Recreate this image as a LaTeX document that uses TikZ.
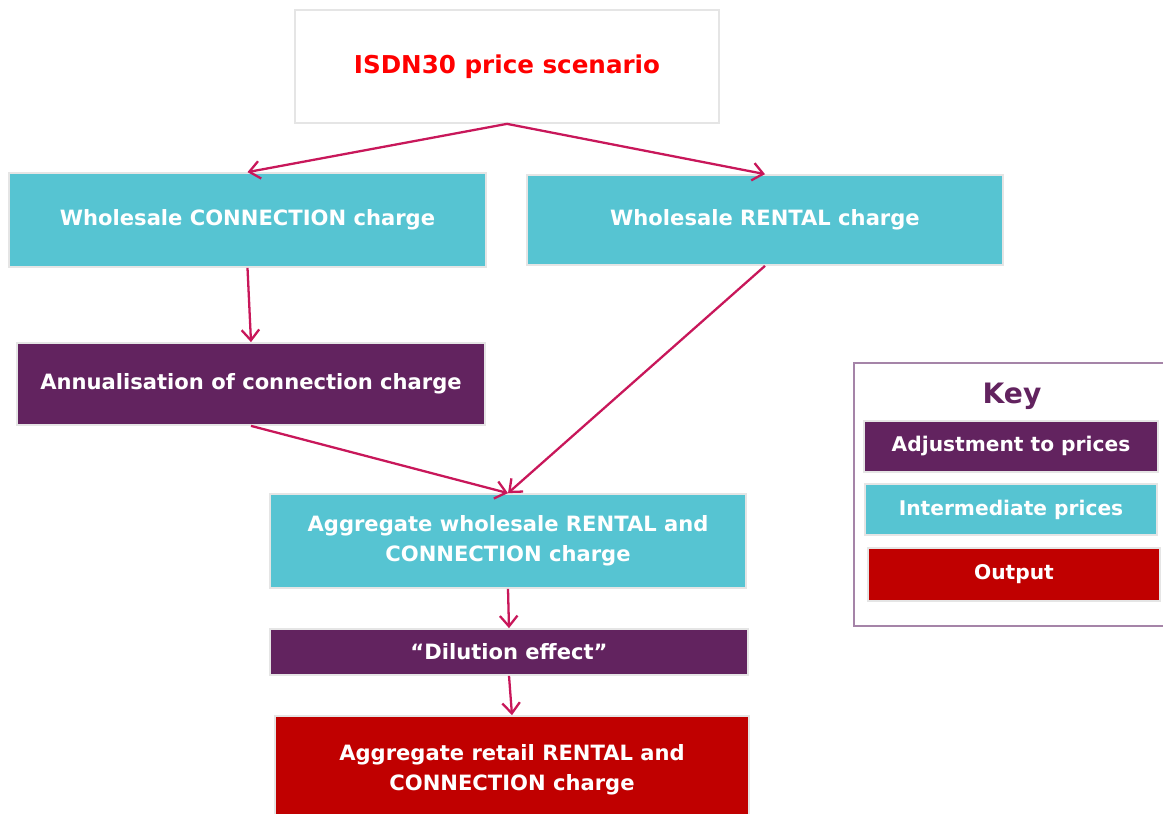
\documentclass[tikz,border=0pt]{standalone}
\usepackage{fontspec}
\setmainfont{DejaVu Sans}
\usepackage{xcolor}
\usetikzlibrary{arrows.meta}

\definecolor{teal}{HTML}{56C4D2}
\definecolor{plum}{HTML}{62235F}
\definecolor{output}{HTML}{C00000}
\definecolor{arrowred}{HTML}{C8175A}
\definecolor{keyline}{HTML}{A584A8}

\begin{document}
\begin{tikzpicture}[x=0.02cm,y=-0.02cm,
	box/.style={draw=gray!20,line width=1pt,inner sep=0pt,align=center,
		font=\bfseries\fontsize{12}{17}\selectfont,text=white},
	inter/.style={box,fill=teal},
	adjust/.style={box,fill=plum},
	outbox/.style={box,fill=output},
	keybox/.style={font=\bfseries\fontsize{11.5}{15}\selectfont},
	link/.style={draw=arrowred,line width=1.3pt,-{Straight Barb[length=6pt,width=10pt]}}]

	\useasboundingbox (0,0) rectangle (1163,814);

	% flow
	\node[box,fill=white,text=red,font=\bfseries\fontsize{14}{18}\selectfont,
		minimum width=8.48cm,minimum height=2.26cm] (isdn) at (507,66.5) {ISDN30 price scenario};

	\node[inter,minimum width=9.54cm,minimum height=1.88cm] (wconn) at (247.5,220) {Wholesale CONNECTION charge};
	\node[inter,minimum width=9.52cm,minimum height=1.8cm] (wrent) at (765,220) {Wholesale RENTAL charge};

	\node[adjust,minimum width=9.36cm,minimum height=1.64cm] (annual) at (251,384) {Annualisation of connection charge};

	\node[inter,minimum width=9.52cm,minimum height=1.88cm] (aggwhole) at (508,541) {Aggregate wholesale RENTAL and\\CONNECTION charge};
	\node[adjust,minimum width=9.56cm,minimum height=0.92cm] (dilution) at (509,652) {“Dilution effect”};
	\node[outbox,minimum width=9.48cm,minimum height=2.16cm] (aggretail) at (512,770) {Aggregate retail RENTAL and\\CONNECTION charge};

	\draw[link] (isdn.south) -- (wconn.north);
	\draw[link] (isdn.south) -- (wrent.north);
	\draw[link] (wconn.south) -- (annual.north);
	\draw[link] (annual.south) -- (aggwhole.north);
	\draw[link] (wrent.south) -- (aggwhole.north);
	\draw[link] (aggwhole.south) -- (dilution.north);
	\draw[link] (dilution.south) -- (aggretail.north);

	% key
	\draw[keyline,line width=1.2pt] (854,363) rectangle (1180,626);
	\node[text=plum,font=\bfseries\fontsize{16}{20}\selectfont] (keytitle) at (1012,396) {Key};
	\node[adjust,keybox,minimum width=5.88cm,minimum height=1.02cm] (keyadj) at (1011,446.5) {Adjustment to prices};
	\node[inter,keybox,minimum width=5.84cm,minimum height=1.02cm] (keyint) at (1011,509.5) {Intermediate prices};
	\node[outbox,keybox,minimum width=5.84cm,minimum height=1.06cm] (keyout) at (1014,574.5) {Output};
\end{tikzpicture}
\end{document}
